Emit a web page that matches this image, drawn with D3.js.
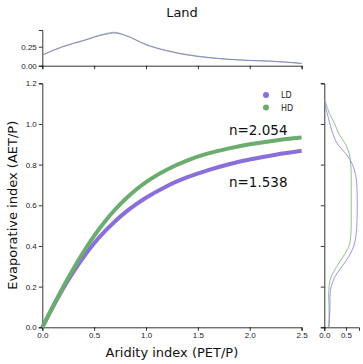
<!DOCTYPE html>
<html>
<head>
<meta charset="utf-8">
<script src="https://cdn.jsdelivr.net/npm/d3@7"></script>
<style>
  html, body { margin: 0; padding: 0; background: #fff; }
  svg { display: block; font-family: "DejaVu Sans", sans-serif; }
</style>
</head>
<body>
<div id="chart"></div>
<script>
/* Budyko-style curves for land, with marginal densities. */

// main curves: aridity index vs evaporative index
var aridity = [0, 0.1, 0.2, 0.3, 0.4, 0.5, 0.6, 0.7, 0.8, 0.9, 1.0, 1.2, 1.4, 1.6, 1.8, 2.0, 2.25, 2.5];
var evapLD = [0, 0.098, 0.190, 0.273, 0.347, 0.413, 0.470, 0.520, 0.565, 0.603, 0.637, 0.694, 0.738, 0.773, 0.802, 0.825, 0.849, 0.868];
var evapHD = [0, 0.100, 0.197, 0.288, 0.373, 0.450, 0.518, 0.578, 0.630, 0.675, 0.714, 0.775, 0.821, 0.855, 0.880, 0.900, 0.919, 0.933];
var seriesNames = ["LD", "HD"];
var nLabels = ["n=1.538", "n=2.054"];

// top marginal: density of aridity index
var topX = [0, 0.2, 0.4, 0.6, 0.7, 0.8, 1.0, 1.2, 1.4, 1.6, 1.8, 2.0, 2.2, 2.5];
var topLD = [0.14, 0.25, 0.33, 0.41, 0.43, 0.40, 0.28, 0.20, 0.145, 0.11, 0.085, 0.07, 0.06, 0.03];
var topHD = [0.14, 0.255, 0.335, 0.42, 0.44, 0.40, 0.275, 0.195, 0.14, 0.105, 0.082, 0.068, 0.06, 0.03];

// right marginal: density of evaporative index
var sideY = [0, 0.05, 0.1, 0.15, 0.2, 0.25, 0.3, 0.35, 0.4, 0.45, 0.5, 0.6, 0.7, 0.75, 0.8, 0.85, 0.9, 0.95, 1.0, 1.05, 1.1, 1.12];
var sideLD = [0.11, 0.12, 0.13, 0.13, 0.16, 0.25, 0.41, 0.57, 0.68, 0.73, 0.75, 0.76, 0.75, 0.72, 0.65, 0.51, 0.31, 0.20, 0.13, 0.07, 0.01, 0];
var sideHD = [0.10, 0.11, 0.11, 0.10, 0.11, 0.16, 0.29, 0.44, 0.57, 0.61, 0.62, 0.62, 0.62, 0.62, 0.61, 0.58, 0.49, 0.34, 0.24, 0.12, 0.04, 0];

var xTicks = [0, 0.5, 1.0, 1.5, 2.0, 2.5];
var yTicks = [0, 0.2, 0.4, 0.6, 0.8, 1.0, 1.2];
var topTicks = [0, 0.25];
var sideTicks = [0, 0.5];

var colLD = "#8a6fdb";
var colHD = "#6aad6e";

var W = 363, H = 364;
var svg = d3.select("#chart").append("svg").attr("width", W).attr("height", H);

var x = d3.scaleLinear().domain([0, 2.5]).range([42.3, 301.6]);
var y = d3.scaleLinear().domain([0, 1.2]).range([327.3, 83.3]);
var yTop = d3.scaleLinear().domain([0, 0.47]).range([65.7, 30]);
var xSide = d3.scaleLinear().domain([0, 0.8]).range([324.3, 359]);

function styleAxis(g, labels) {
  g.select(".domain").attr("stroke", "#000").attr("stroke-width", 0.8);
  g.selectAll(".tick line").attr("stroke", "#000").attr("stroke-width", 0.8);
  g.selectAll(".tick text").attr("fill", "#222").attr("font-size", 8);
  if (!labels) g.selectAll(".tick text").remove();
}

// title
svg.append("text").attr("x", 182).attr("y", 17).attr("text-anchor", "middle")
  .attr("font-size", 13).attr("fill", "#111").text("Land");

// ---- main panel
svg.append("g").attr("transform", "translate(0," + y(0) + ")")
  .call(d3.axisBottom(x).tickValues(xTicks).tickSize(3.5).tickPadding(2).tickFormat(d3.format(".1f")))
  .call(styleAxis, true);
svg.append("g").attr("transform", "translate(" + x(0) + ",0)")
  .call(d3.axisLeft(y).tickValues(yTicks).tickSize(3.5).tickPadding(2).tickFormat(d3.format(".1f")))
  .call(styleAxis, true);

svg.append("text").attr("x", x(1.25)).attr("y", 357).attr("text-anchor", "middle")
  .attr("font-size", 13).attr("fill", "#111").text("Aridity index (PET/P)");
svg.append("text").attr("transform", "translate(17," + y(0.6) + ") rotate(-90)")
  .attr("text-anchor", "middle").attr("font-size", 13).attr("fill", "#111")
  .text("Evaporative index (AET/P)");

var mainLine = d3.line().x(function (d) { return x(d[0]); }).y(function (d) { return y(d[1]); })
  .curve(d3.curveMonotoneX);
[[evapLD, colLD], [evapHD, colHD]].forEach(function (s) {
  svg.append("path").datum(aridity.map(function (a, i) { return [a, s[0][i]]; }))
    .attr("d", mainLine).attr("fill", "none").attr("stroke", s[1])
    .attr("stroke-width", 4).attr("stroke-linecap", "butt");
});

// n labels
svg.append("text").attr("x", x(1.8)).attr("y", y(0.946)).attr("font-size", 13.5)
  .attr("fill", "#111").text(nLabels[1]);
svg.append("text").attr("x", x(1.8)).attr("y", y(0.690)).attr("font-size", 13.5)
  .attr("fill", "#111").text(nLabels[0]);

// legend
[colLD, colHD].forEach(function (c, i) {
  svg.append("circle").attr("cx", 266).attr("cy", 95 + i * 12.5).attr("r", 3).attr("fill", c);
  svg.append("text").attr("x", 281).attr("y", 98 + i * 12.5).attr("font-size", 8)
    .attr("fill", "#222").text(seriesNames[i]);
});

// ---- top marginal
svg.append("g").attr("transform", "translate(0," + yTop(0) + ")")
  .call(d3.axisBottom(x).tickValues(xTicks).tickSize(3.5))
  .call(styleAxis, false);
svg.append("g").attr("transform", "translate(" + x(0) + ",0)")
  .call(d3.axisLeft(yTop).tickValues(topTicks).tickSize(3.5).tickPadding(2).tickFormat(d3.format(".2f")))
  .call(styleAxis, true);

var topLine = d3.line().x(function (d) { return x(d[0]); }).y(function (d) { return yTop(d[1]); })
  .curve(d3.curveMonotoneX);
[[topHD, colHD], [topLD, colLD]].forEach(function (s) {
  svg.append("path").datum(topX.map(function (a, i) { return [a, s[0][i]]; }))
    .attr("d", topLine).attr("fill", "none").attr("stroke", s[1]).attr("stroke-width", 0.9)
    .attr("stroke-opacity", 0.85);
});

// ---- right marginal
svg.append("g").attr("transform", "translate(0," + y(0) + ")")
  .call(d3.axisBottom(xSide).tickValues(sideTicks).tickSize(3.5).tickPadding(2).tickFormat(d3.format(".1f")))
  .call(styleAxis, true);
svg.append("g").attr("transform", "translate(" + xSide(0) + ",0)")
  .call(d3.axisLeft(y).tickValues(yTicks).tickSize(3.5))
  .call(styleAxis, false);

var sideLine = d3.line().x(function (d) { return xSide(d[1]); }).y(function (d) { return y(d[0]); })
  .curve(d3.curveMonotoneY);
[[sideHD, colHD], [sideLD, colLD]].forEach(function (s) {
  svg.append("path").datum(sideY.map(function (v, i) { return [v, s[0][i]]; }))
    .attr("d", sideLine).attr("fill", "none").attr("stroke", s[1]).attr("stroke-width", 0.9)
    .attr("stroke-opacity", 0.85);
});
</script>
</body>
</html>
